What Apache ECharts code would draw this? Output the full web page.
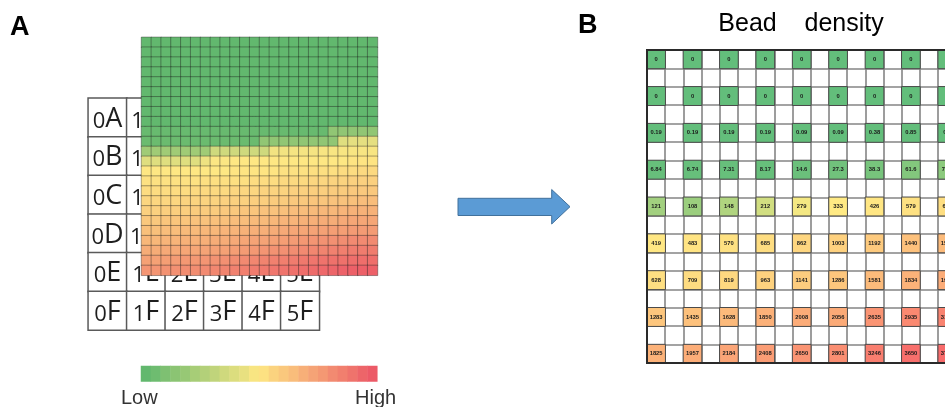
<!DOCTYPE html>
<html><head><meta charset="utf-8">
<script src="https://cdn.jsdelivr.net/npm/echarts@6/dist/echarts.min.js"></script>
<style>html,body{margin:0;padding:0;background:#fff}#c{width:945px;height:407px}</style>
</head><body><div id="c"></div>
<script>
// ---------- Panel A: background plate table ----------
const tableCols = ['0','1','2','3','4','5'];
const tableRows = ['A','B','C','D','E','F'];

// ---------- Panel A: 24x24 bead-density colour levels (0 = low/green, 50 = yellow, 100 = high/red) ----------
const heatA = [
  [0,0,0,0,0,0,0,0,0,0,0,0,0,0,0,0,0,0,0,0,0,0,0,0],
  [0,0,0,0,0,0,0,0,0,0,0,0,0,0,0,0,0,0,0,0,0,0,0,0],
  [0,0,0,0,0,0,0,0,0,0,0,0,0,0,0,0,0,0,0,0,0,0,0,0],
  [0,0,0,0,0,0,0,0,0,0,0,0,0,0,0,0,0,0,0,0,0,0,0,0],
  [0,0,0,0,0,0,0,0,0,0,0,0,0,0,0,0,0,0,0,0,0,0,0,0],
  [0,0,0,0,0,0,0,0,0,0,0,0,0,0,0,0,0,0,0,0,0,0,0,0],
  [0,0,0,0,0,0,0,0,0,0,0,0,0,0,0,0,0,0,0,0,0,0,0,0],
  [0,0,0,0,0,0,0,0,0,0,0,0,0,0,0,0,0,0,0,0,0,0,0,0],
  [0,0,0,0,0,0,0,0,0,0,0,0,0,0,0,0,0,0,0,0,0,0,0,0],
  [2,2,2,2,2,2,2,2,2,2,2,2,2,2,2,2,2,2,2,15,15,15,15,15],
  [3,3,3,3,3,3,3,3,3,3,3,3,15,15,15,15,15,15,15,15,40,42,42,42],
  [20,20,20,20,20,20,20,35,35,35,35,35,35,46,46,47,47,47,48,48,48,48,48,48],
  [40,40,40,40,40,40,45,49,49,50,50,50,50,50,50,50,50,50,50,50,50,51,51,51],
  [50,50,50,50,50,50,50,50,50,51,51,51,51,51,52,52,52,53,53,53,54,54,55,55],
  [52,52,52,52,52,52,53,53,53,53,53,54,54,54,55,55,55,56,56,57,57,58,58,58],
  [54,54,54,54,54,55,55,55,55,56,56,56,57,57,57,58,58,59,59,60,60,61,61,61],
  [56,56,56,56,57,57,57,57,58,58,58,59,59,60,60,61,61,62,62,63,63,64,65,65],
  [58,58,59,59,59,60,60,60,61,61,62,62,63,63,64,65,65,66,67,67,68,69,69,69],
  [61,61,62,62,62,63,63,64,64,65,65,66,66,67,68,68,69,70,71,71,72,73,73,73],
  [64,64,65,65,66,66,67,67,68,68,69,70,70,71,72,73,73,74,75,76,76,77,77,77],
  [67,67,68,68,69,69,70,71,71,72,73,74,74,75,76,77,78,79,80,81,82,83,83,83],
  [71,71,72,72,73,73,74,75,75,76,77,78,79,80,81,82,83,84,85,86,87,88,88,88],
  [75,75,76,77,78,78,79,80,81,82,83,84,85,86,87,88,89,90,91,92,92,93,93,93],
  [79,79,80,81,82,82,83,84,85,86,87,88,89,90,91,92,93,94,95,96,97,98,98,98]
];

// ---------- Panel A: colour bar steps ----------
const barLevels = [0,4,9,13,17,22,26,30,35,39,43,48,52,57,61,65,70,74,78,83,87,91,96,100];
const barLabels = ['Low', 'High'];

// ---------- Panel B: bead density table (data rows / data columns) ----------
const bColumns = ['1','2','3','4','5','6','7','8','9'];
const bRows = ['1','2','3','4','5','6','7','8','9'];
const bValues = [
  [0,0,0,0,0,0,0,0,0],
  [0,0,0,0,0,0,0,0,0],
  [0.19,0.19,0.19,0.19,0.09,0.09,0.38,0.85,0.9],
  [6.84,6.74,7.31,8.17,14.6,27.3,38.3,61.6,78.1],
  [121,108,148,212,279,333,426,579,660],
  [419,483,570,685,862,1003,1192,1440,1590],
  [628,709,819,963,1141,1286,1581,1834,1990],
  [1283,1435,1628,1850,2008,2056,2635,2935,3100],
  [1825,1957,2184,2408,2650,2801,3246,3650,3750]
];
const titleB = 'Bead    density';

// ---------- styling helpers ----------
const A_GREEN = '#62b86e', A_YELLOW = '#fee783', A_RED = '#ec5a67';
const XL_GREEN = [0x63,0xBE,0x7B], XL_YELLOW = [0xFF,0xEB,0x84], XL_RED = [0xF8,0x69,0x6B];
const XL_MID = 300, XL_MAX = 3800;
function mix(a, b, t) {
  t = Math.max(0, Math.min(1, t));
  return 'rgb(' + a.map((v, i) => Math.round(v + (b[i] - v) * t)).join(',') + ')';
}
function excelColor(v) {
  return v <= XL_MID ? mix(XL_GREEN, XL_YELLOW, v / XL_MID)
                     : mix(XL_YELLOW, XL_RED, (v - XL_MID) / (XL_MAX - XL_MID));
}

// ---------- build series data ----------
const tableData = [];
tableRows.forEach((r, ri) => tableCols.forEach((c, ci) => tableData.push([ci, ri, 0])));

const aData = [];
heatA.forEach((row, ri) => row.forEach((v, ci) => aData.push([ci, ri, v])));

const barData = barLevels.map((v, i) => [i, 0, v]);

const bXCats = [], bYCats = [];
bColumns.forEach(c => { bXCats.push('c' + c); bXCats.push('g' + c); });
bRows.forEach((r, i) => { bYCats.push('r' + r); if (i < bRows.length - 1) bYCats.push('s' + r); });
const bData = [];
bValues.forEach((row, ri) => row.forEach((v, ci) => bData.push({
  value: [ci * 2, ri * 2, v], itemStyle: { color: excelColor(v) }
})));

const hiddenCat = (data, idx, extra) => Object.assign({
  type: 'category', gridIndex: idx, data: data, show: false
}, extra || {});

const chart = echarts.init(document.getElementById('c'), null, { renderer: 'canvas' });
chart.setOption({
  animation: false,
  backgroundColor: '#fff',
  grid: [
    { left: 88.3, top: 98.3, width: 231, height: 231.7, outerBoundsMode: 'none' },
    { left: 141.5, top: 37.3, width: 236, height: 238, outerBoundsMode: 'none' },
    { left: 141, top: 366, width: 236.3, height: 15.5, outerBoundsMode: 'none' },
    { left: 647, top: 50, width: 327.6, height: 313, outerBoundsMode: 'none',
      show: true, borderColor: '#2a2a2a', borderWidth: 2, z: 10 }
  ],
  xAxis: [
    hiddenCat(tableCols, 0),
    hiddenCat(heatA[0].map((_, i) => 'x' + i), 1),
    hiddenCat(barLevels.map((_, i) => 'b' + i), 2),
    { type: 'category', gridIndex: 3, data: bXCats, axisLabel: { show: false }, axisTick: { show: false },
      axisLine: { show: false }, splitLine: { show: true, interval: 0, lineStyle: { color: '#858585', width: 1.6 } } }
  ],
  yAxis: [
    hiddenCat(tableRows, 0, { inverse: true }),
    hiddenCat(heatA.map((_, i) => 'y' + i), 1, { inverse: true }),
    hiddenCat(['bar'], 2),
    { type: 'category', gridIndex: 3, data: bYCats, inverse: true, axisLabel: { show: false }, axisTick: { show: false },
      axisLine: { show: false }, splitLine: { show: true, interval: 0, lineStyle: { color: '#858585', width: 1.6 } } }
  ],
  visualMap: [{
    type: 'continuous', show: false, seriesIndex: [1, 2], dimension: 2, min: 0, max: 100,
    inRange: { color: [A_GREEN, A_YELLOW, A_RED] }
  }],
  series: [
    {
      type: 'heatmap', xAxisIndex: 0, yAxisIndex: 0, data: tableData, z: 1,
      itemStyle: { color: '#ffffff', borderColor: '#5a5a5a', borderWidth: 1.5 },
      label: {
        show: true,
        formatter: p => '{d|' + tableCols[p.value[0]] + '}{l|' + tableRows[p.value[1]] + '}',
        rich: {
          d: { fontFamily: 'Open Sans', fontSize: 22, color: '#1e1e1e', verticalAlign: 'bottom', lineHeight: 30 },
          l: { fontFamily: 'Open Sans', fontSize: 27, color: '#1e1e1e', verticalAlign: 'bottom', lineHeight: 30 }
        }
      },
      emphasis: { disabled: true }
    },
    {
      type: 'heatmap', xAxisIndex: 1, yAxisIndex: 1, data: aData, z: 5,
      itemStyle: { borderColor: 'rgba(30,30,30,0.38)', borderWidth: 1 },
      emphasis: { disabled: true }
    },
    {
      type: 'heatmap', xAxisIndex: 2, yAxisIndex: 2, data: barData, z: 5,
      itemStyle: { borderWidth: 0 },
      emphasis: { disabled: true }
    },
    {
      type: 'heatmap', xAxisIndex: 3, yAxisIndex: 3, data: bData, z: 5,
      itemStyle: { borderColor: '#4a4a4a', borderWidth: 1 },
      label: {
        show: true, formatter: p => String(p.value[2]),
        fontFamily: 'Liberation Sans', fontSize: 5.8, fontWeight: 'bold', color: '#1a1a1a'
      },
      emphasis: { disabled: true }
    }
  ],
  graphic: [
    { type: 'text', left: 10, top: 14, style: { text: 'A', font: 'bold 27px "Liberation Sans"', fill: '#000' } },
    { type: 'text', left: 578, top: 12, style: { text: 'B', font: 'bold 27px "Liberation Sans"', fill: '#000' } },
    { type: 'text', x: 801, y: 24, style: { text: titleB, font: '25px "Liberation Sans"', fill: '#000', align: 'center', verticalAlign: 'middle' } },
    { type: 'text', x: 121, y: 398, style: { text: barLabels[0], font: '20px "Liberation Sans"', fill: '#333', align: 'left', verticalAlign: 'middle' } },
    { type: 'text', x: 355, y: 398, style: { text: barLabels[1], font: '20px "Liberation Sans"', fill: '#333', align: 'left', verticalAlign: 'middle' } },
    { type: 'polygon', shape: { points: [[458,198.3],[551.7,198.3],[551.7,189.5],[570,206.7],[551.7,224],[551.7,215.5],[458,215.5]] },
      style: { fill: '#5b9bd5', stroke: '#41719c', lineWidth: 1 } }
  ]
});
</script></body></html>
